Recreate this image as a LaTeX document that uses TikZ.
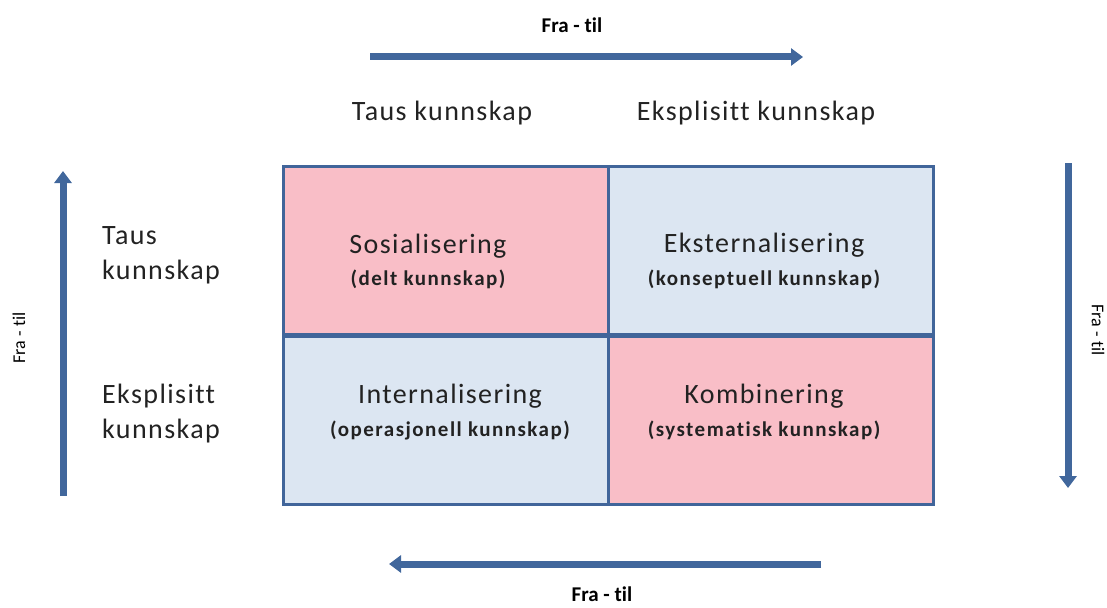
\documentclass[tikz,border=0pt]{standalone}
\usepackage{fontspec}
\setmainfont{Carlito}[Ligatures=NoCommon]
\newfontfamily\spacedfont{Carlito}[LetterSpace=5, Ligatures=NoCommon]
\newfontfamily\subfont{Carlito}[LetterSpace=7, Ligatures=NoCommon]
\usetikzlibrary{arrows.meta}
\definecolor{gridblue}{HTML}{41659A}
\definecolor{arrowblue}{HTML}{41679C}
\definecolor{cellpink}{HTML}{F9BEC7}
\definecolor{cellblue}{HTML}{DCE6F2}
\definecolor{textdark}{HTML}{222222}
\tikzset{
  cell/.style={draw=gridblue, line width=3pt, minimum width=325pt, minimum height=168pt, inner sep=0pt},
  pinkcell/.style={cell, fill=cellpink},
  bluecell/.style={cell, fill=cellblue},
  title/.style={font=\spacedfont\fontsize{28}{30}\selectfont, text=textdark, inner sep=0pt},
  sub/.style={font=\subfont\bfseries\fontsize{21}{23}\selectfont, text=textdark, inner sep=0pt},
  heading/.style={font=\spacedfont\fontsize{28}{35}\selectfont, text=textdark, inner sep=0pt, align=left},
  flow/.style={draw=arrowblue, line width=7pt, -{Triangle[width=17pt,length=12pt]}},
  flowlabel/.style={font=\bfseries\fontsize{21}{24}\selectfont, inner sep=0pt},
  sidelabel/.style={font=\fontsize{18}{20}\selectfont, inner sep=0pt},
}
\begin{document}
\begin{tikzpicture}[x=1pt, y=-1pt]
\useasboundingbox (0,0) rectangle (1107,607);
% the four quadrants
\node[pinkcell, anchor=north west] (soc) at (282,165) {};
\node[bluecell, anchor=north west] (ext) at (607,165) {};
\node[bluecell, anchor=north west] (int) at (282,335) {};
\node[pinkcell, anchor=north west] (kom) at (607,335) {};
% quadrant texts
\node[title] (socT) at (428,246) {Sosialisering};
\node[sub] (socS) at (428,279) {(delt kunnskap)};
\node[title] (extT) at (764,245) {Eksternalisering};
\node[sub] (extS) at (764,279) {(konseptuell kunnskap)};
\node[title] (intT) at (450,396) {Internalisering};
\node[sub] (intS) at (450,430) {(operasjonell kunnskap)};
\node[title] (komT) at (764,396) {Kombinering};
\node[sub] (komS) at (764,430) {(systematisk kunnskap)};
% column and row headings
\node[heading] (colA) at (442,113) {Taus kunnskap};
\node[heading] (colB) at (756,113) {Eksplisitt kunnskap};
\node[heading, anchor=west] (rowA) at (102,255) {Taus\\kunnskap};
\node[heading, anchor=west] (rowB) at (102,414) {Eksplisitt\\kunnskap};
% direction arrows
\coordinate (topS) at (370,57);   \coordinate (topE) at (803,57);
\coordinate (botS) at (821,564);  \coordinate (botE) at (389,564);
\coordinate (lefS) at (63,496);   \coordinate (lefE) at (63,171);
\coordinate (rigS) at (1068,163); \coordinate (rigE) at (1068,488);
\draw[flow] (topS) -- (topE);
\draw[flow] (botS) -- (botE);
\draw[flow] (lefS) -- (lefE);
\draw[flow] (rigS) -- (rigE);
\node[flowlabel] (topL) at (572,25) {Fra - til};
\node[flowlabel] (botL) at (602,594) {Fra - til};
\node[sidelabel, rotate=90] (lefL) at (19,338) {Fra - til};
\node[sidelabel, rotate=-90] (rigL) at (1098,330) {Fra - til};
\end{tikzpicture}
\end{document}
